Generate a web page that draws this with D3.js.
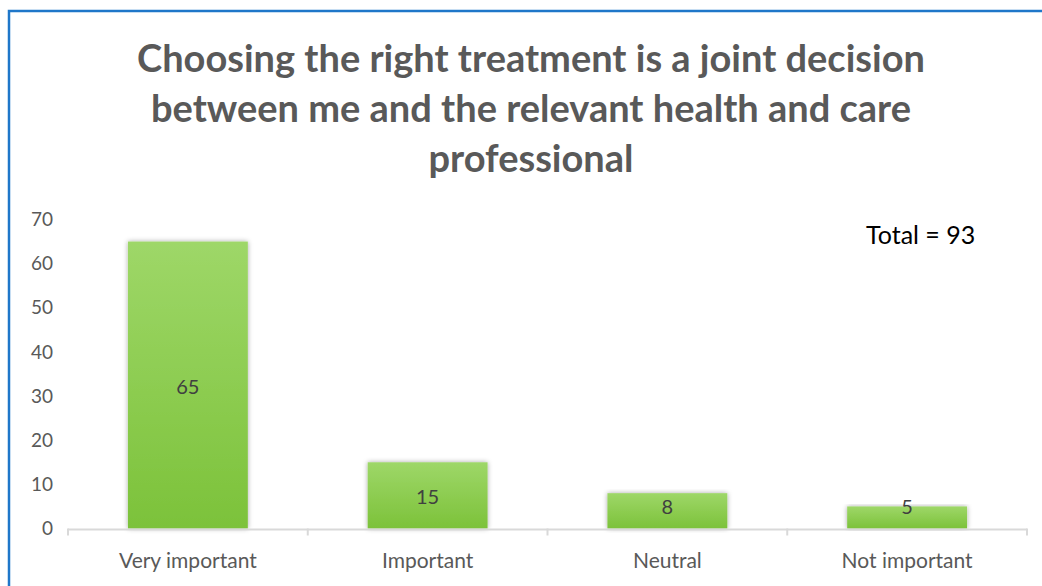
<!DOCTYPE html>
<html>
<head>
<meta charset="utf-8">
<script src="https://cdn.jsdelivr.net/npm/d3@7"></script>
<style>
  html, body { margin: 0; padding: 0; background: #ffffff; }
  svg { display: block; }
</style>
</head>
<body>
<svg id="chart" width="1042" height="586"></svg>
<script>
// Survey responses
const categories = ["Very important", "Important", "Neutral", "Not important"];
const counts = [65, 15, 8, 5];
const yTicks = [0, 10, 20, 30, 40, 50, 60, 70];
const titleLines = [
  "Choosing the right treatment is a joint decision",
  "between me and the relevant health and care",
  "professional"
];

const W = 1042, H = 586;
const plot = { left: 68, right: 1027, top: 219.5, bottom: 528.5 };
const font = "Lato, 'Open Sans', sans-serif";

const svg = d3.select("#chart");

// Outer frame
svg.append("rect")
  .attr("x", 9).attr("y", 11)
  .attr("width", W + 10).attr("height", H + 10)
  .attr("fill", "#ffffff")
  .attr("stroke", "#1f77c9")
  .attr("stroke-width", 2.5);

const defs = svg.append("defs");
const grad = defs.append("linearGradient")
  .attr("id", "barFill").attr("x1", 0).attr("y1", 0).attr("x2", 0).attr("y2", 1);
grad.append("stop").attr("offset", "0%").attr("stop-color", "#9ed768");
grad.append("stop").attr("offset", "100%").attr("stop-color", "#7cc23a");

const shadow = defs.append("filter")
  .attr("id", "barShadow")
  .attr("x", "-20%").attr("y", "-10%").attr("width", "140%").attr("height", "120%");
shadow.append("feDropShadow")
  .attr("dx", 0).attr("dy", 0).attr("stdDeviation", 2.5)
  .attr("flood-color", "#000000").attr("flood-opacity", 0.35);

// Title
svg.append("text")
  .attr("text-anchor", "middle")
  .attr("font-family", font)
  .attr("font-weight", 700)
  .attr("font-size", 38)
  .attr("fill", "#595959")
  .selectAll("tspan")
  .data(titleLines)
  .join("tspan")
  .attr("x", 531)
  .attr("y", (d, i) => 72 + i * 50)
  .text(d => d);

const x = d3.scaleBand()
  .domain(categories)
  .range([plot.left, plot.right])
  .paddingInner(0.5)
  .paddingOuter(0.25);

const y = d3.scaleLinear()
  .domain([0, 70])
  .range([plot.bottom, plot.top]);

// Y axis labels (no line)
const yAxis = svg.append("g")
  .attr("transform", `translate(${plot.left - 15},0)`)
  .call(d3.axisLeft(y).tickValues(yTicks).tickSize(0).tickPadding(0));
yAxis.select(".domain").remove();
yAxis.selectAll("text")
  .attr("font-family", font)
  .attr("font-size", 19)
  .attr("fill", "#595959");

// Bars
const data = categories.map((c, i) => ({ cat: c, val: counts[i] }));
svg.append("g")
  .selectAll("rect")
  .data(data)
  .join("rect")
  .attr("x", d => x(d.cat))
  .attr("y", d => y(d.val))
  .attr("width", x.bandwidth())
  .attr("height", d => y(0) - y(d.val))
  .attr("fill", "url(#barFill)")
  .attr("filter", "url(#barShadow)");

// X axis line with category boundary ticks
const xAxisG = svg.append("g");
xAxisG.append("line")
  .attr("x1", plot.left).attr("x2", plot.right)
  .attr("y1", plot.bottom + 1).attr("y2", plot.bottom + 1)
  .attr("stroke", "#d9d9d9").attr("stroke-width", 2);
const edges = [plot.left].concat(
  categories.slice(1).map(c => x(c) - (x.step() - x.bandwidth()) / 2),
  [plot.right]
);
xAxisG.selectAll("line.tick")
  .data(edges)
  .join("line")
  .attr("class", "tick")
  .attr("x1", d => d).attr("x2", d => d)
  .attr("y1", plot.bottom).attr("y2", plot.bottom + 7)
  .attr("stroke", "#d9d9d9").attr("stroke-width", 2);

const xAxis = svg.append("g")
  .attr("transform", `translate(0,${plot.bottom})`)
  .call(d3.axisBottom(x).tickSize(0).tickPadding(0));
xAxis.select(".domain").remove();
xAxis.selectAll("text")
  .attr("dy", 0)
  .attr("y", 39)
  .attr("font-family", font)
  .attr("font-size", 21)
  .attr("fill", "#595959");

// Value labels, centred in the bar but kept clear of the axis
svg.append("g")
  .selectAll("text")
  .data(data)
  .join("text")
  .attr("x", d => x(d.cat) + x.bandwidth() / 2)
  .attr("y", d => Math.min((y(d.val) + y(0)) / 2, y(0) - 24))
  .attr("dy", "0.45em")
  .attr("text-anchor", "middle")
  .attr("font-family", font)
  .attr("font-size", 20)
  .attr("fill", "#404040")
  .text(d => d.val);

// Total annotation
svg.append("text")
  .attr("x", 866).attr("y", 244)
  .attr("font-family", font)
  .attr("font-size", 25)
  .attr("fill", "#000000")
  .text(`Total = ${d3.sum(counts)}`);
</script>
</body>
</html>
